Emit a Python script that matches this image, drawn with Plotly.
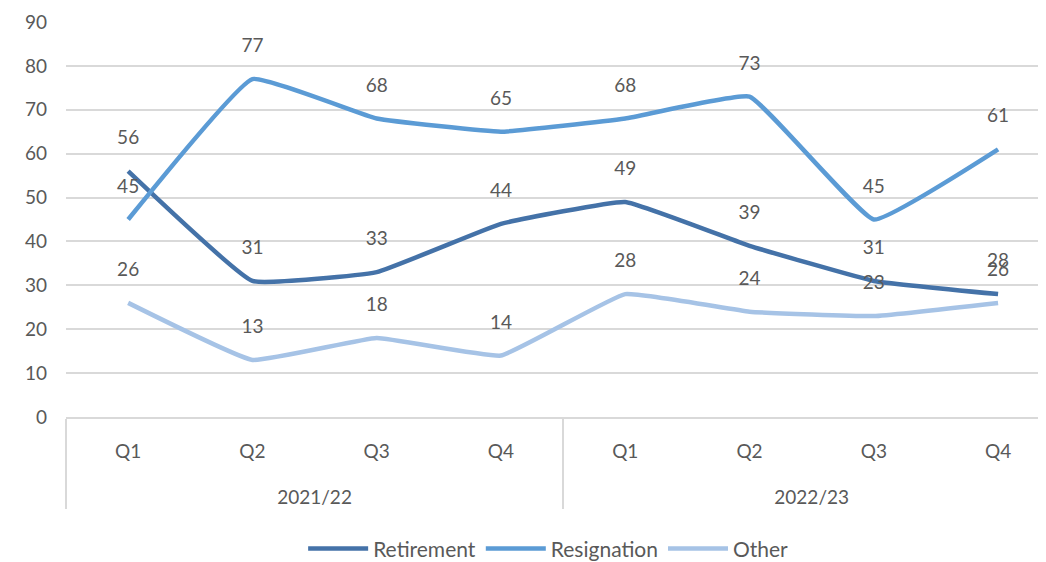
import plotly.graph_objects as go

years = ["2021/22"] * 4 + ["2022/23"] * 4
quarters = ["Q1", "Q2", "Q3", "Q4", "Q1", "Q2", "Q3", "Q4"]
retirement = [56, 31, 33, 44, 49, 39, 31, 28]
resignation = [45, 77, 68, 65, 68, 73, 45, 61]
other = [26, 13, 18, 14, 28, 24, 23, 26]

series = [
    ("Retirement", retirement, "#4472a8"),
    ("Resignation", resignation, "#5b9bd5"),
    ("Other", other, "#a6c3e6"),
]

FONT = "Lato"
GREY = "#595959"
SPAN = "<span style='font-size:19px'>{}</span>"
year_labels = ["<br>" + SPAN.format(y) for y in years]
quarter_labels = [SPAN.format(q) for q in quarters]

fig = go.Figure()
for name, vals, col in series:
    fig.add_trace(go.Scatter(
        x=[year_labels, quarter_labels], y=vals, name=name,
        mode="lines",
        line=dict(color=col, width=4.5, shape="spline", smoothing=0.3),
    ))
for name, vals, col in series:
    fig.add_trace(go.Scatter(
        x=[year_labels, quarter_labels], y=vals, name=name,
        mode="markers+text", showlegend=False, hoverinfo="skip",
        marker=dict(size=34, opacity=0, color=col),
        text=[str(v) for v in vals], textposition="top center",
        textfont=dict(family=FONT, size=19, color=GREY),
        cliponaxis=False,
    ))

fig.update_layout(
    width=1046, height=562,
    margin=dict(l=58, r=0, t=14, b=153),
    paper_bgcolor="white", plot_bgcolor="white",
    font=dict(family=FONT, size=19, color=GREY),
    showlegend=True,
    legend=dict(orientation="h", x=0.488, xanchor="center", y=-0.334, yanchor="middle",
                font=dict(family=FONT, size=21, color=GREY), itemwidth=60,
                traceorder="normal"),
    xaxis=dict(type="multicategory", range=[-0.5, 7.45], automargin=False,
               showgrid=False, showline=True, linecolor="#d9d9d9", linewidth=1.5,
               showdividers=True, dividercolor="#d9d9d9", dividerwidth=1.5,
               tickfont=dict(family=FONT, size=24, color=GREY), ticks="",
               ticklabelstandoff=10),
    yaxis=dict(range=[0, 90], dtick=10, showgrid=True, gridcolor="#d9d9d9", gridwidth=1.5,
               zeroline=False, showline=False, ticks="", automargin=False,
               tickfont=dict(family=FONT, size=19, color=GREY), ticklabelstandoff=18),
)
fig.write_html("out.html")
